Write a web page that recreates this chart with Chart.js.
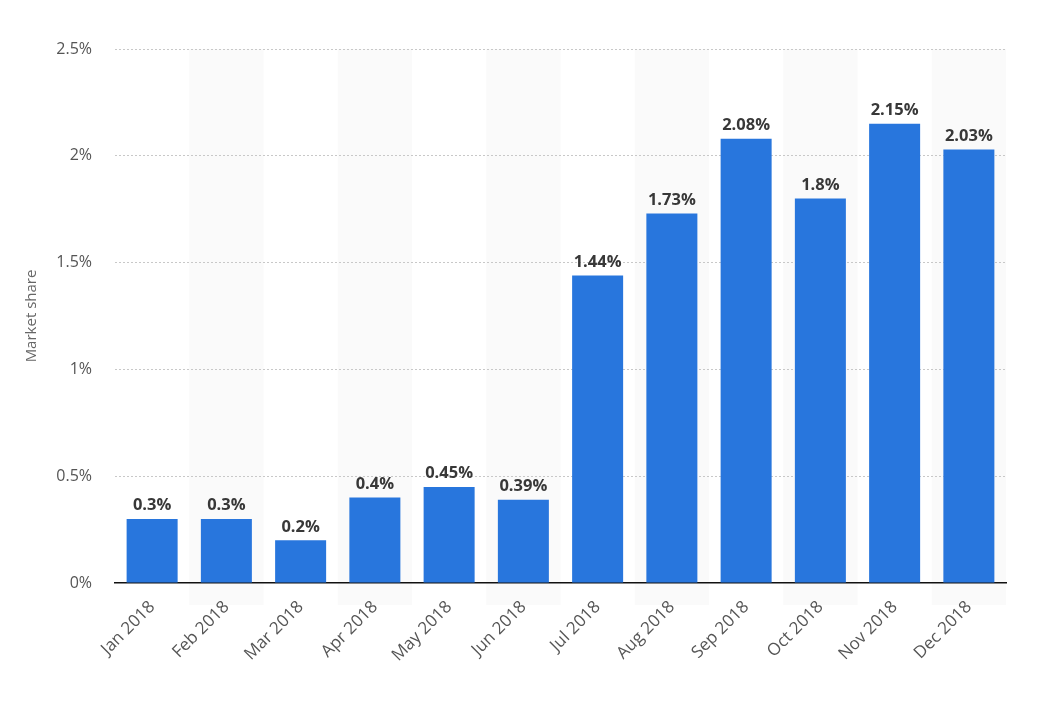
<!DOCTYPE html>
<html>
<head>
<meta charset="utf-8">
<script src="https://cdn.jsdelivr.net/npm/chart.js@4/dist/chart.umd.min.js"></script>
<style>
html,body{margin:0;padding:0;background:#fff;}
#wrap{width:1052px;height:712px;position:relative;}
</style>
</head>
<body>
<div id="wrap"><canvas id="c" width="1052" height="712"></canvas></div>
<script>
const categories = ["Jan 2018","Feb 2018","Mar 2018","Apr 2018","May 2018","Jun 2018","Jul 2018","Aug 2018","Sep 2018","Oct 2018","Nov 2018","Dec 2018"];
const marketShare = [0.3,0.3,0.2,0.4,0.45,0.39,1.44,1.73,2.08,1.8,2.15,2.03];
const valueLabels = ["0.3%","0.3%","0.2%","0.4%","0.45%","0.39%","1.44%","1.73%","2.08%","1.8%","2.15%","2.03%"];
const yTicks = [0,0.5,1,1.5,2,2.5];
const yTickLabels = ["0%","0.5%","1%","1.5%","2%","2.5%"];

const bandPlugin = {
  id:'bands',
  beforeDraw(chart){
    const {ctx, chartArea, scales:{x}} = chart;
    ctx.save();
    ctx.fillStyle = '#fafafa';
    const w = x.getPixelForValue(1) - x.getPixelForValue(0);
    for(let i=1;i<categories.length;i+=2){
      const cx = x.getPixelForValue(i);
      ctx.fillRect(cx - w/2, chartArea.top, w, chartArea.bottom - chartArea.top + 22);
    }
    ctx.restore();
  }
};

const labelPlugin = {
  id:'vlabels',
  afterDatasetsDraw(chart){
    const {ctx} = chart;
    const meta = chart.getDatasetMeta(0);
    ctx.save();
    ctx.font = 'bold 16.5px "Open Sans", sans-serif';
    ctx.fillStyle = '#383838';
    ctx.textAlign = 'center';
    ctx.textBaseline = 'bottom';
    meta.data.forEach((bar,i)=>{
      ctx.fillText(valueLabels[i], bar.x, bar.y - 5);
    });
    ctx.restore();
  }
};

new Chart(document.getElementById('c'), {
  type:'bar',
  data:{
    labels:categories,
    datasets:[{data:marketShare, backgroundColor:'#2876dd', borderWidth:0, categoryPercentage:1, barPercentage:0.687}]
  },
  options:{
    responsive:false,
    animation:false,
    devicePixelRatio:1,
    layout:{padding:{top:49,right:46,left:0,bottom:0}},
    plugins:{legend:{display:false}, tooltip:{enabled:false}},
    scales:{
      x:{
        grid:{display:false, drawTicks:false},
        border:{display:true, color:'#111', width:1.5},
        ticks:{maxRotation:45, minRotation:45, color:'#555', padding:14, font:{family:'"Open Sans", sans-serif', size:17}},
        afterFit(s){ s.height = 712 - 583; }
      },
      y:{
        min:0, max:2.5,
        afterBuildTicks(s){ s.ticks = yTicks.map(v=>({value:v})); },
        grid:{color:(c)=> c.tick && c.tick.value===0 ? 'rgba(0,0,0,0)' : '#c8c8c8', lineWidth:1, drawTicks:false},
        border:{display:false, dash:[2,2]},
        ticks:{color:'#555', padding:23, font:{family:'"Open Sans", sans-serif', size:16},
          callback:(v,i)=> yTickLabels[yTicks.indexOf(v)] },
        title:{display:true, text:'Market share', color:'#666', font:{family:'"Open Sans", sans-serif', size:15}, padding:{top:23,bottom:0}},
        afterFit(s){ s.width = 115; }
      }
    }
  },
  plugins:[bandPlugin,labelPlugin]
});
</script>
</body>
</html>
